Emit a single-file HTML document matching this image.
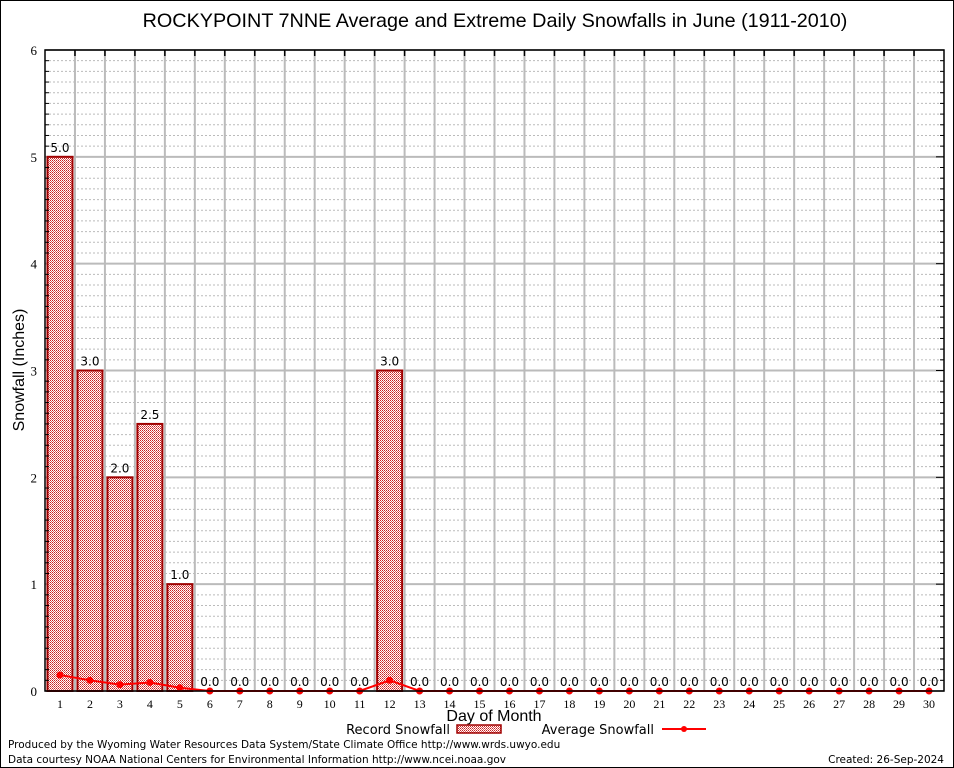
<!DOCTYPE html>
<html><head><meta charset="utf-8"><style>
body{margin:0;background:#fff}
svg{display:block}
</style></head><body>
<svg width="954" height="768" xmlns="http://www.w3.org/2000/svg">
<defs>
<pattern id="chk" width="2" height="2" patternUnits="userSpaceOnUse">
<rect width="2" height="2" fill="#fff"/><rect width="1" height="1" fill="#c82020"/><rect x="1" y="1" width="1" height="1" fill="#e06060"/>
</pattern>
</defs>
<rect x="0.5" y="0.5" width="953" height="767" fill="#fff" stroke="#000"/>
<text x="495" y="27" font-family="Liberation Sans, sans-serif" font-size="19.8" text-anchor="middle">ROCKYPOINT 7NNE Average and Extreme Daily Snowfalls in June (1911-2010)</text>
<g id="grid"></g>
<g id="bars"></g>
<g id="line"></g>
<rect x="45" y="50" width="899" height="641" fill="none" stroke="#000" stroke-width="1.5"/>
<g id="axes"></g>
<text transform="translate(24,370) rotate(-90)" font-family="Liberation Sans, sans-serif" font-size="16" text-anchor="middle">Snowfall (Inches)</text>
<text x="494" y="721" font-family="Liberation Sans, sans-serif" font-size="16" text-anchor="middle">Day of Month</text>
<g>
<text x="450" y="734" font-family="DejaVu Sans, sans-serif" font-size="13" text-anchor="end">Record Snowfall</text>
<rect x="457" y="725" width="44" height="8" fill="url(#chk)" stroke="#a00000" stroke-width="1.5"/>
</g>
<g>
<text x="654" y="734" font-family="DejaVu Sans, sans-serif" font-size="13" text-anchor="end">Average Snowfall</text>
<line x1="662" y1="729" x2="706" y2="729" stroke="#f00" stroke-width="2"/>
<circle cx="684" cy="729" r="3" fill="#f00"/>
</g>
<text x="8" y="748" font-family="DejaVu Sans, sans-serif" font-size="10.5">Produced by the Wyoming Water Resources Data System/State Climate Office http://www.wrds.uwyo.edu</text>
<text x="8" y="763" font-family="DejaVu Sans, sans-serif" font-size="10.5">Data courtesy NOAA National Centers for Environmental Information http://www.ncei.noaa.gov</text>
<text x="944" y="763" font-family="DejaVu Sans, sans-serif" font-size="10.5" text-anchor="end">Created:  26-Sep-2024</text>
</svg>
<script>
const days=[1,2,3,4,5,6,7,8,9,10,11,12,13,14,15,16,17,18,19,20,21,22,23,24,25,26,27,28,29,30];
const recordSnow=[5.0,3.0,2.0,2.5,1.0,0,0,0,0,0,0,3.0,0,0,0,0,0,0,0,0,0,0,0,0,0,0,0,0,0,0];
const avgSnow=[0.15,0.1,0.06,0.08,0.03,0,0,0,0,0,0,0.1,0,0,0,0,0,0,0,0,0,0,0,0,0,0,0,0,0,0];
const yTicks=[0,1,2,3,4,5,6];
const NS='http://www.w3.org/2000/svg';
const L=45,R=944,T=50,B=691;
const xs=d=>L+(d-0.5)*(R-L)/30;
const ys=v=>B-v*(B-T)/6;
function mk(tag,attrs,parent,txt){const e=document.createElementNS(NS,tag);for(const k in attrs)e.setAttribute(k,attrs[k]);if(txt!==undefined)e.textContent=txt;parent.appendChild(e);return e;}
const grid=document.getElementById('grid'),bars=document.getElementById('bars'),line=document.getElementById('line'),axes=document.getElementById('axes');
for(let i=1;i<60;i++){const v=i/10;if(i%10===0)continue;const g=mk('line',{x1:L,x2:R,y1:ys(v),y2:ys(v),stroke:'#bbb','stroke-dasharray':'2,2'},grid);
const t1=mk('line',{x1:L,x2:L+4,y1:ys(v),y2:ys(v),stroke:'#000'},axes);
const t2=mk('line',{x1:R-4,x2:R,y1:ys(v),y2:ys(v),stroke:'#000'},axes);}
yTicks.forEach(v=>{const g=mk('line',{x1:L,x2:R,y1:ys(v),y2:ys(v),stroke:'#bbb','stroke-width':2},grid);
const t=mk('text',{x:L-8,y:ys(v)+5,'font-family':'Liberation Serif, serif','font-size':13,'text-anchor':'end'},axes,String(v));
const k=mk('line',{x1:R-8,x2:R,y1:ys(v),y2:ys(v),stroke:'#000'},axes);});
for(let i=1;i<30;i++){const x=L+i*(R-L)/30;const g=mk('line',{x1:x,x2:x,y1:T,y2:B,stroke:'#bbb','stroke-width':2},grid);
const k=mk('line',{x1:x,x2:x,y1:T,y2:T+6,stroke:'#000','stroke-width':1.5},axes);}
days.forEach((d,i)=>{const v=recordSnow[i];const x=xs(d);
if(v>0){const r=mk('rect',{x:x-12.5,y:ys(v),width:25,height:B-ys(v),fill:'url(#chk)',stroke:'#a00000','stroke-width':2},bars);}
const lb=mk('text',{x:x,y:ys(v)-5,'font-family':'DejaVu Sans, sans-serif','font-size':12,'text-anchor':'middle'},bars,v.toFixed(1));
const xl=mk('text',{x:x,y:B+17,'font-family':'Liberation Serif, serif','font-size':12,'text-anchor':'middle'},axes,String(d));});
const pl=mk('polyline',{points:days.map((d,i)=>xs(d)+','+ys(avgSnow[i])).join(' '),fill:'none',stroke:'#f00','stroke-width':2},line);


days.forEach((d,i)=>{const c=mk('circle',{cx:xs(d),cy:ys(avgSnow[i]),r:3.5,fill:'#f00'},line);});
</script>
</body></html>
